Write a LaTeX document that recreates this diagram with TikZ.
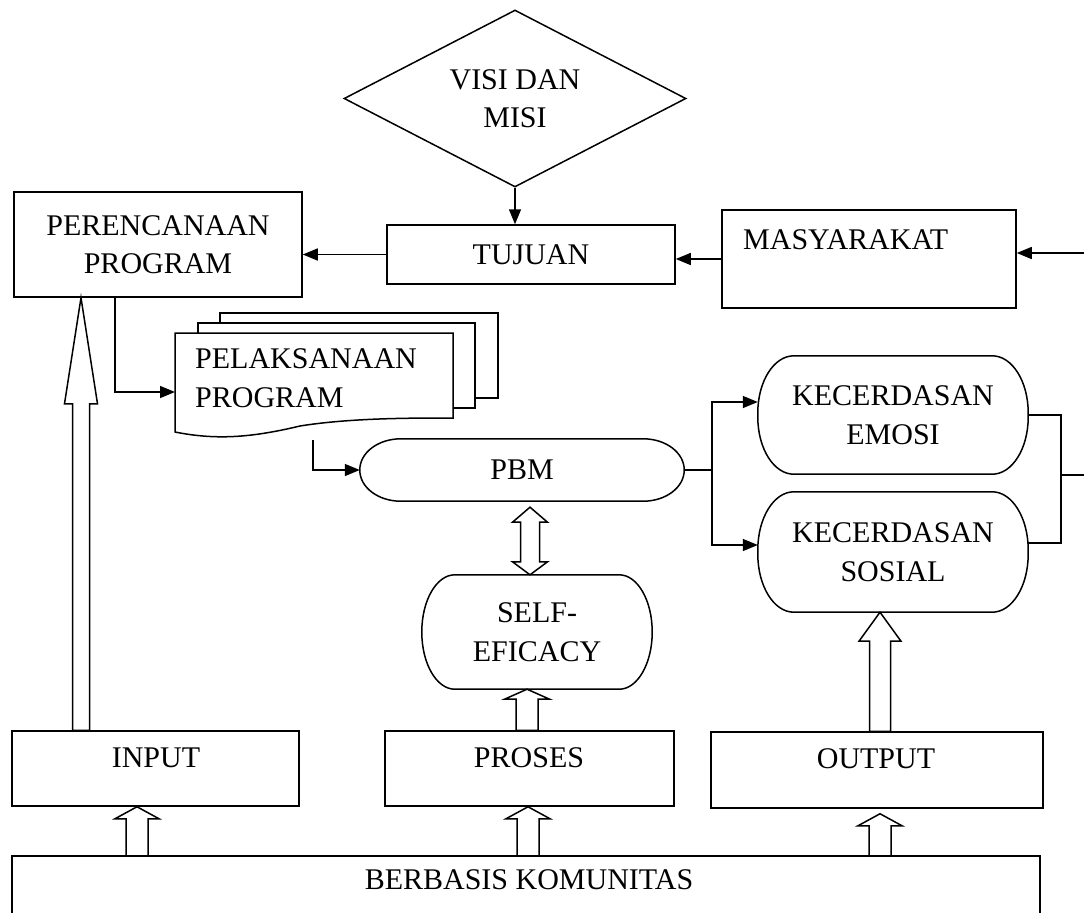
\documentclass[tikz,border=0pt]{standalone}
\usepackage{fontspec}
\setmainfont{Liberation Serif}
\usetikzlibrary{shapes.geometric,arrows.meta,calc}
% elliptical rounded outline around a named node: #1 name, #2 x radius, #3 y radius
\newcommand\ellout[3]{%
  \draw[ln] let \p1=(#1.north west), \p2=(#1.south east) in
    ({\x1+#2pt},\y1) -- ({\x2-#2pt},\y1)
    .. controls ({\x2-0.4477*#2pt},\y1) and (\x2,{\y1-0.4477*#3pt}) .. (\x2,{\y1-#3pt})
    -- (\x2,{\y2+#3pt})
    .. controls (\x2,{\y2+0.4477*#3pt}) and ({\x2-0.4477*#2pt},\y2) .. ({\x2-#2pt},\y2)
    -- ({\x1+#2pt},\y2)
    .. controls ({\x1+0.4477*#2pt},\y2) and (\x1,{\y2+0.4477*#3pt}) .. (\x1,{\y2+#3pt})
    -- (\x1,{\y1-#3pt})
    .. controls (\x1,{\y1-0.4477*#3pt}) and ({\x1+0.4477*#2pt},\y1) .. ({\x1+#2pt},\y1) -- cycle;}
% hollow upward arrow: #1 x, #2 tail point, #3 tip point, #4 head length, #5 head half width, #6 shaft half width
\newcommand\hollowup[6]{%
  \draw[hol] let \p1=#2, \p2=#3 in
    (#1pt,\y2) -- ({#1pt+#5pt},{\y2-#4pt}) -- ({#1pt+#6pt},{\y2-#4pt}) -- ({#1pt+#6pt},\y1)
    -- ({#1pt-#6pt},\y1) -- ({#1pt-#6pt},{\y2-#4pt}) -- ({#1pt-#5pt},{\y2-#4pt}) -- cycle;}
% hollow double arrow: #1 x, #2 top tip, #3 bottom tip, #4 top head length, #5 bottom head length, #6 head half, #7 shaft half
\newcommand\hollowboth[7]{%
  \draw[hol] let \p1=#2, \p2=#3 in
    (#1pt,\y1) -- ({#1pt+#6pt},{\y1-#4pt}) -- ({#1pt+#7pt},{\y1-#4pt}) -- ({#1pt+#7pt},{\y2+#5pt})
    -- ({#1pt+#6pt},{\y2+#5pt}) -- (#1pt,\y2) -- ({#1pt-#6pt},{\y2+#5pt}) -- ({#1pt-#7pt},{\y2+#5pt})
    -- ({#1pt-#7pt},{\y1-#4pt}) -- ({#1pt-#6pt},{\y1-#4pt}) -- cycle;}
\begin{document}
\begin{tikzpicture}[x=1pt,y=-1pt,
  every node/.style={font=\fontsize{30}{38.5}\selectfont, inner sep=0pt, align=center},
  ln/.style={line width=1.5pt},
  box/.style={draw, line width=1.5pt, rectangle},
  arr/.style={ln, -{Triangle[length=15pt,width=12pt]}},
  hol/.style={line width=1.5pt, fill=white, line join=miter},
]
\useasboundingbox (0,0) rectangle (1084,913);

% top row
\node[shape=diamond, shape aspect=2, draw, ln, minimum width=342pt, minimum height=177pt] (visi) at (515,98.5) {VISI DAN\\MISI};
\node[box, minimum width=288pt, minimum height=105pt] (perenc) at (158,244.5) {PERENCANAAN\\PROGRAM};
\node[box, minimum width=288pt, minimum height=59pt] (tujuan) at (531,254.5) {TUJUAN};
\node[box, minimum width=294pt, minimum height=98pt] (masy) at (869,259) {};
\node[anchor=west] (masyt) at (743,240) {MASYARAKAT};

% document stack
\draw[ln] (220,323) -- (220,313) -- (498,313) -- (498,398) -- (475,398);
\draw[ln] (198,333) -- (198,323) -- (475,323) -- (475,408) -- (453,408);
\draw[ln] (175,333) -- (453,333) -- (453,418) .. controls (410,418) and (350,418) .. (300,426)
  .. controls (250,438) and (215,440) .. (175,432) -- cycle;
\node[anchor=west, align=left] (doc) at (195,378) {PELAKSANAAN\\PROGRAM};
\coordinate (docin) at (175,392);
\coordinate (docout) at (313,440);
\coordinate (pdown) at (115,297);

% rounded nodes
\node[minimum width=324pt, minimum height=62pt] (pbm) at (522,470) {PBM};
\ellout{pbm}{41}{31}
\node[minimum width=230pt, minimum height=114pt] (self) at (537,632) {SELF-\\EFICACY};
\ellout{self}{33}{57}
\node[minimum width=270pt, minimum height=118pt] (emosi) at (893,415) {KECERDASAN\\EMOSI};
\ellout{emosi}{36}{57}
\node[minimum width=270pt, minimum height=120pt] (sosial) at (893,552) {KECERDASAN\\SOSIAL};
\ellout{sosial}{36}{58}

% bottom boxes
\node[box, minimum width=287pt, minimum height=75pt] (input) at (155.5,768.5) {};
\node (inputt) at (156,758) {INPUT};
\node[box, minimum width=289pt, minimum height=75pt] (proses) at (529.5,768.5) {};
\node (prosest) at (529,758) {PROSES};
\node[box, minimum width=332pt, minimum height=76pt] (output) at (877,770) {};
\node (outputt) at (876,759) {OUTPUT};
\node[minimum width=1028pt, minimum height=57pt] (berb) at (526,884.5) {};
\draw[ln] (berb.south west) |- (berb.north east) -- (berb.south east);
\node (berbt) at (529,880) {BERBASIS KOMUNITAS};

% thin connectors
\draw[arr] (visi.south) -- (visi.south |- tujuan.north);
\draw[arr] (tujuan.west) -- (tujuan.west -| perenc.east);
\draw[arr] (masy.west) -- (masy.west -| tujuan.east);
\coordinate (rin) at (1084,253);
\draw[arr] (rin) -- (rin -| masy.east);
\draw[arr] (pdown) |- (docin);
\draw[arr] (docout) |- (pbm.west);
\coordinate (br) at (712,470);
\draw[ln] (pbm.east) -- (br);
\draw[arr] (br) |- ([yshift=13pt]emosi.west);
\draw[arr] (br) |- ([yshift=7pt]sosial.west);
\coordinate (bx) at (1061,475);
\coordinate (rout) at (1084,475);
\draw[ln] (emosi.east) -| (bx) |- ([yshift=9pt]sosial.east);
\draw[ln] (bx) -- (rout);

% hollow arrows
\hollowup{81}{(input.north)}{(perenc.south)}{106}{16.5}{8.5}
\hollowup{137}{(berb.north)}{(input.south)}{12}{22}{11}
\hollowup{528}{(berb.north)}{(proses.south)}{12}{22}{11}
\hollowup{880}{(berb.north)}{([yshift=-5pt]output.south)}{12}{22}{11}
\hollowup{527}{(proses.north)}{(self.south)}{10}{22.5}{11}
\hollowup{880}{(output.north)}{(sosial.south)}{29}{21}{10.5}
\hollowboth{530}{([yshift=-6pt]pbm.south)}{(self.north)}{15}{13}{17.5}{9.5}
\end{tikzpicture}
\end{document}
